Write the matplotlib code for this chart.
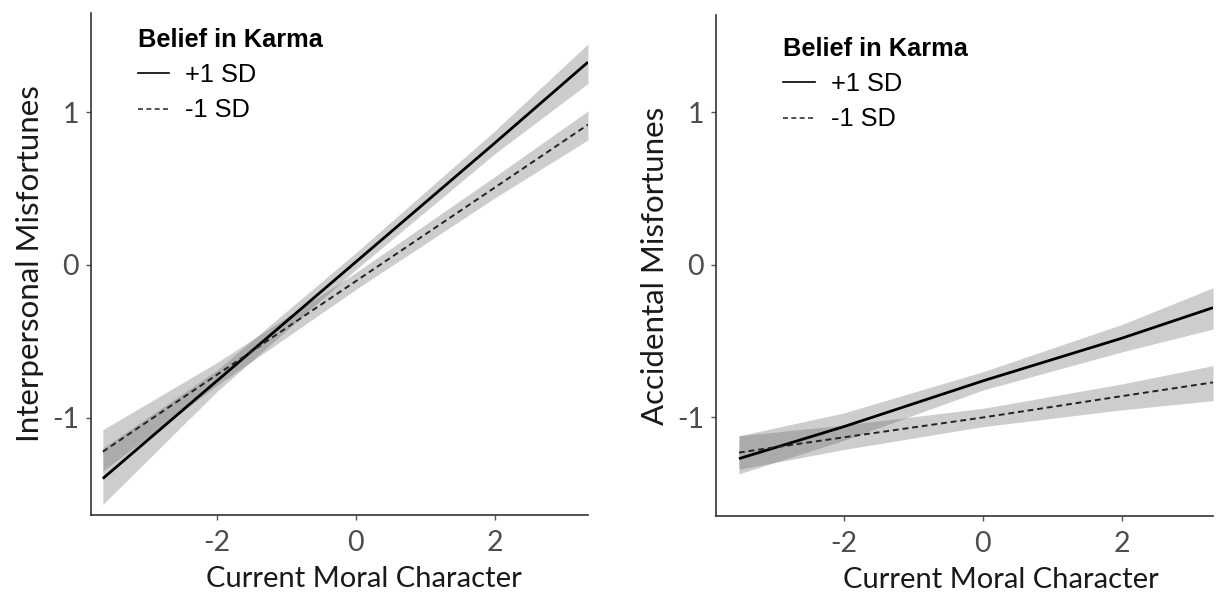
import matplotlib
matplotlib.use("Agg")
import matplotlib.pyplot as plt
from matplotlib.lines import Line2D

# ── Data ─────────────────────────────────────────────────────
# Interpersonal misfortunes (left panel)
x_left = [-3.64, -2.0, 0.0, 2.0, 3.34]
hi_fit_left = [-1.40, -0.76, 0.02, 0.80, 1.33]
hi_lo_left = [-1.57, -0.83, -0.03, 0.73, 1.19]
hi_up_left = [-1.20, -0.69, 0.08, 0.88, 1.45]
lo_fit_left = [-1.224, -0.72, -0.106, 0.508, 0.92]
lo_lo_left = [-1.35, -0.79, -0.16, 0.44, 0.82]
lo_up_left = [-1.08, -0.64, -0.05, 0.58, 1.01]

# Accidental misfortunes (right panel)
x_right = [-3.51, -2.0, 0.0, 2.0, 3.31]
hi_fit_right = [-1.27, -1.06, -0.76, -0.48, -0.28]
hi_lo_right = [-1.37, -1.15, -0.82, -0.57, -0.42]
hi_up_right = [-1.12, -0.97, -0.70, -0.39, -0.15]
lo_fit_right = [-1.23, -1.13, -1.00, -0.86, -0.77]
lo_lo_right = [-1.34, -1.21, -1.06, -0.95, -0.89]
lo_up_right = [-1.12, -1.05, -0.94, -0.78, -0.66]

x_ticks = [-2, 0, 2]
y_ticks = [-1, 0, 1]
legend_title = "Belief in Karma"
legend_labels = ["+1 SD", "-1 SD"]

FONT = "Lato"
TICK_COLOR = "#4d4d4d"
BAND = "#666666"
LEG_SIZE = 18.3

fig = plt.figure(figsize=(12.23, 5.98), dpi=100)
ax_l = fig.add_axes([91 / 1223, 1 - 515 / 598, 497 / 1223, 502 / 598])
ax_r = fig.add_axes([716 / 1223, 1 - 516 / 598, 497 / 1223, 501 / 598])


def draw_panel(ax, x, hi_fit, hi_lo, hi_up, lo_fit, lo_lo, lo_up,
               ylabel, leg_xy, xlabel_x):
    ax.fill_between(x, hi_lo, hi_up, color=BAND, alpha=0.32, lw=0)
    ax.fill_between(x, lo_lo, lo_up, color=BAND, alpha=0.32, lw=0)
    ax.plot(x, hi_fit, color="black", lw=2.0, solid_capstyle="butt")
    ax.plot(x, lo_fit, color="#222222", lw=1.4, linestyle=(0, (3, 2)))

    ax.set_xticks(x_ticks)
    ax.set_yticks(y_ticks)
    ax.set_xticklabels([str(v) for v in x_ticks])
    ax.set_yticklabels([str(v) for v in y_ticks])
    for side in ["top", "right"]:
        ax.spines[side].set_visible(False)
    for side in ["left", "bottom"]:
        ax.spines[side].set_color("#333333")
        ax.spines[side].set_linewidth(1.2)
    ax.tick_params(length=3.5, width=1.0, color="#555555",
                   labelsize=20.5, labelcolor=TICK_COLOR)
    ax.tick_params(axis="x", pad=7)
    ax.tick_params(axis="y", pad=5)
    for lab in ax.get_xticklabels() + ax.get_yticklabels():
        lab.set_family(FONT)
    ax.set_xlabel("Current Moral Character", fontsize=21, family=FONT,
                  color="#1a1a1a")
    ax.xaxis.set_label_coords(xlabel_x, -0.101)
    ax.set_ylabel(ylabel, fontsize=22.5, family=FONT, color="#1a1a1a", labelpad=6)

    handles = [Line2D([], [], color="black", lw=1.2),
               Line2D([], [], color="#333333", lw=1.2, linestyle=(0, (3, 2)))]
    leg = ax.legend(handles, legend_labels, title=legend_title, loc="upper left",
                    bbox_to_anchor=leg_xy, frameon=False, alignment="left",
                    borderpad=0, borderaxespad=0, handlelength=1.25,
                    handletextpad=0.62, labelspacing=0.45,
                    prop={"family": "Liberation Sans", "size": LEG_SIZE})
    leg.get_title().set_fontproperties({"family": "Liberation Sans",
                                        "weight": "bold", "size": LEG_SIZE})


draw_panel(ax_l, x_left, hi_fit_left, hi_lo_left, hi_up_left,
           lo_fit_left, lo_lo_left, lo_up_left,
           "Interpersonal Misfortunes", (0.094, 0.971), 0.549)
ax_l.set_xlim(-3.81, 3.34)
ax_l.set_ylim(-1.639, 1.652)

draw_panel(ax_r, x_right, hi_fit_right, hi_lo_right, hi_up_right,
           lo_fit_right, lo_lo_right, lo_up_right,
           "Accidental Misfortunes", (0.135, 0.957), 0.573)
ax_r.set_xlim(-3.84, 3.31)
ax_r.set_ylim(-1.646, 1.639)

fig.savefig("out.png", dpi=100)
plt.close(fig)
